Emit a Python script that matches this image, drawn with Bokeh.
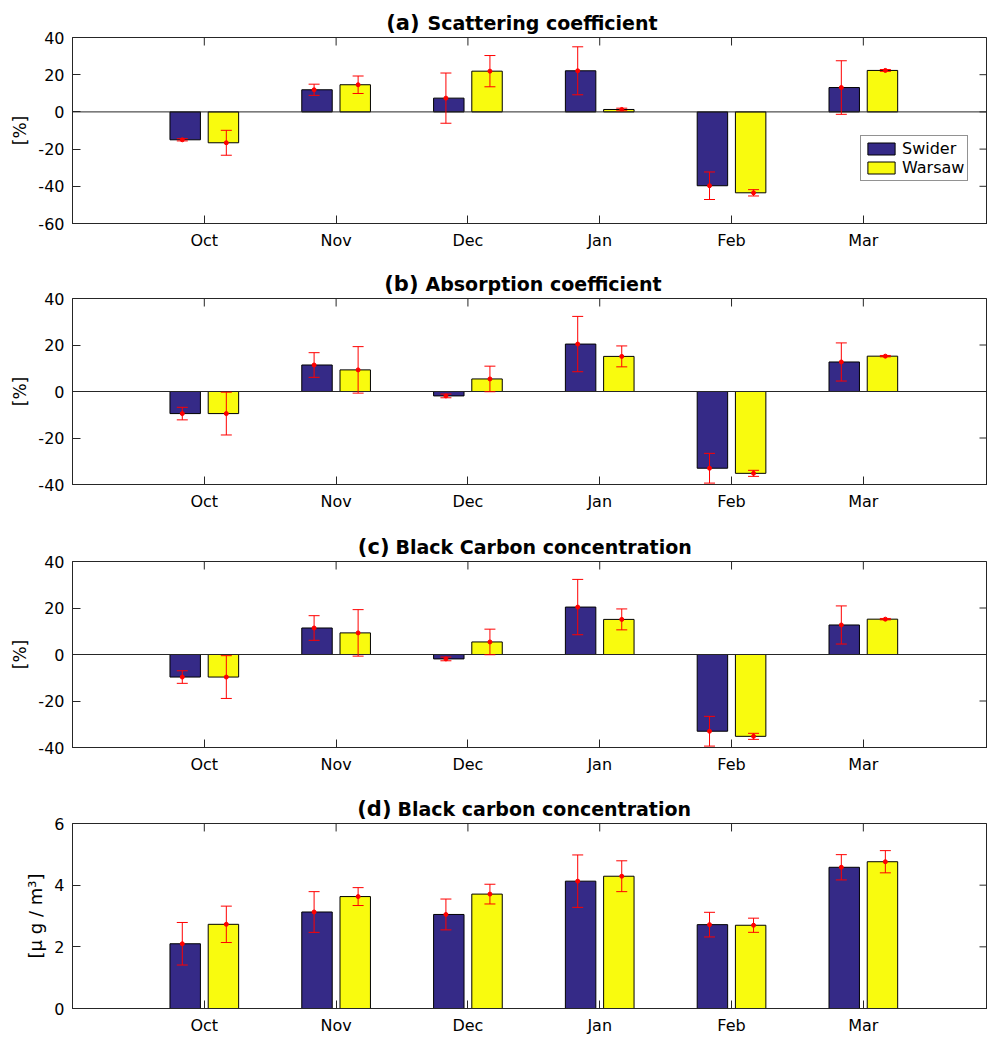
import numpy as np
from bokeh.plotting import figure
from bokeh.models import (ColumnDataSource, Range1d, FixedTicker, LinearAxis, Whisker,
                          TeeHead, Span, Legend, LegendItem)
from bokeh.core.properties import value
from bokeh.layouts import column
from bokeh.embed import file_html
from bokeh.resources import INLINE

# ---------------- data ----------------
months = ["Oct", "Nov", "Dec", "Jan", "Feb", "Mar"]
series_names = ["Swider", "Warsaw"]

scat_swider = [-15.0, 11.9, 7.4, 22.1, -39.7, 13.1]
scat_swider_err = [0.6, 3.0, 13.5, 12.9, 7.4, 14.4]
scat_warsaw = [-16.6, 14.6, 21.9, 1.3, -43.5, 22.3]
scat_warsaw_err = [6.7, 4.7, 8.4, 0.7, 1.7, 0.5]

abs_swider = [-9.5, 11.4, -1.9, 20.4, -33.0, 12.7]
abs_swider_err = [2.7, 5.3, 0.8, 11.9, 6.4, 8.2]
abs_warsaw = [-9.5, 9.3, 5.4, 15.1, -35.2, 15.2]
abs_warsaw_err = [9.2, 10.0, 5.5, 4.5, 1.3, 0.3]

bcp_swider = [-9.7, 11.4, -1.9, 20.4, -33.0, 12.7]
bcp_swider_err = [2.7, 5.3, 0.8, 11.9, 6.4, 8.2]
bcp_warsaw = [-9.7, 9.3, 5.4, 15.1, -35.2, 15.2]
bcp_warsaw_err = [9.2, 10.0, 5.5, 4.5, 1.3, 0.3]

bc_swider = [2.10, 3.13, 3.05, 4.13, 2.72, 4.58]
bc_swider_err = [0.69, 0.66, 0.50, 0.85, 0.40, 0.41]
bc_warsaw = [2.73, 3.63, 3.71, 4.29, 2.70, 4.76]
bc_warsaw_err = [0.59, 0.29, 0.32, 0.50, 0.23, 0.36]

pct_ticks_a = [-60, -40, -20, 0, 20, 40]
pct_ticks_b = [-40, -20, 0, 20, 40]
bc_ticks = [0, 2, 4, 6]

titles = [("(a)", "Scattering coefficient"),
          ("(b)", "Absorption coefficient"),
          ("(c)", "Black Carbon concentration"),
          ("(d)", "Black carbon concentration")]
ylabels = ["[%]", "[%]", "[%]", "[\u03bc g / m\u00b3]"]

# ---------------- style ----------------
C_SW = "#352A87"
C_WA = "#F9FB0E"
AX = "#262626"
FONT = "DejaVu Sans"
W = 987
LEFT = 72
FRAME_H = 186
FRAME_W = W - LEFT
XEND = 6.942
BAR_OFF = 0.145
ERR_OFF = 0.167
BAR_W = 0.231
TITLE_H = 37
TITLE_Y = 14.5
OVERLAP = 10
TICK_LEN = 8

month_pos = np.arange(1, len(months) + 1)


def title_fig(prefix, rest, split):
    t = figure(width=W, height=TITLE_H, x_range=Range1d(LEFT, W),
               y_range=Range1d(0, TITLE_H), output_backend="svg", toolbar_location=None,
               min_border_left=LEFT, min_border_right=0, min_border_top=0,
               min_border_bottom=0, x_axis_type=None, y_axis_type=None)
    t.title.visible = False
    t.outline_line_color = None
    t.text(x=[split[0]], y=[TITLE_Y], text=[prefix], text_font=value(FONT),
           text_font_size="21px", text_font_style="bold", text_align="right",
           text_baseline="alphabetic", text_color="black")
    t.text(x=[split[1]], y=[TITLE_Y], text=[rest], text_font=value(FONT),
           text_font_size="19px", text_font_style="bold", text_align="left",
           text_baseline="alphabetic", text_color="black")
    return t


def style_axis(ax):
    ax.major_tick_in = TICK_LEN
    ax.major_tick_out = 0
    ax.minor_tick_in = 0
    ax.minor_tick_out = 0
    ax.axis_line_color = AX
    ax.axis_line_width = 1
    ax.major_tick_line_color = AX
    ax.major_label_text_font = FONT
    ax.major_label_text_font_size = "16px"
    ax.major_label_text_color = "black"


def panel(ylabel, ysize, yr, yticks, sw, swe, wa, wae, bottom, legend=False):
    p = figure(width=W, height=OVERLAP + FRAME_H + bottom, x_range=Range1d(0, XEND),
               y_range=Range1d(*yr), output_backend="svg", toolbar_location=None,
               min_border_left=LEFT, min_border_right=0, min_border_top=OVERLAP,
               min_border_bottom=bottom, x_axis_type=None, y_axis_type=None,
               margin=(-OVERLAP, 0, 0, 0))
    p.title.visible = False
    p.border_fill_alpha = 0
    p.outline_line_color = AX
    p.outline_line_width = 1

    sw = np.array(sw); swe = np.array(swe)
    wa = np.array(wa); wae = np.array(wae)
    src_sw = ColumnDataSource(dict(x=month_pos - BAR_OFF, xe=month_pos - ERR_OFF,
                                   v=sw, up=sw + swe, lo=sw - swe))
    src_wa = ColumnDataSource(dict(x=month_pos + BAR_OFF, xe=month_pos + ERR_OFF,
                                   v=wa, up=wa + wae, lo=wa - wae))

    p.add_layout(Span(location=0, dimension="width", line_color=AX, line_width=1))

    # inward ticks on top and right edges of the box
    ppu_x = FRAME_W / XEND
    ppu_y = FRAME_H / (yr[1] - yr[0])
    p.segment(x0=month_pos, x1=month_pos, y0=[yr[1]] * len(month_pos),
              y1=[yr[1] - TICK_LEN / ppu_y] * len(month_pos), line_color=AX, line_width=1)
    p.segment(x0=[XEND] * len(yticks), x1=[XEND - TICK_LEN / ppu_x] * len(yticks),
              y0=yticks, y1=yticks, line_color=AX, line_width=1)

    r1 = p.vbar(x="x", top="v", bottom=0, width=BAR_W, source=src_sw,
                fill_color=C_SW, line_color="black", line_width=1)
    r2 = p.vbar(x="x", top="v", bottom=0, width=BAR_W, source=src_wa,
                fill_color=C_WA, line_color="black", line_width=1)

    for src in (src_sw, src_wa):
        p.add_layout(Whisker(source=src, base="xe", upper="up", lower="lo",
                             dimension="height", line_color="red", line_width=1,
                             level="annotation",
                             upper_head=TeeHead(size=11, line_color="red", line_width=1),
                             lower_head=TeeHead(size=11, line_color="red", line_width=1)))
        p.scatter(x="xe", y="v", source=src, size=4, color="red", marker="circle")

    xb = LinearAxis(ticker=FixedTicker(ticks=list(month_pos)),
                    major_label_overrides={int(k): m for k, m in zip(month_pos, months)})
    style_axis(xb)
    xb.major_label_standoff = 7
    p.add_layout(xb, "below")

    yl = LinearAxis(ticker=FixedTicker(ticks=yticks), axis_label=ylabel,
                    major_label_overrides={int(k): str(k) for k in yticks})
    style_axis(yl)
    yl.major_label_standoff = 8
    yl.axis_label_text_font = FONT
    yl.axis_label_text_font_size = ysize
    yl.axis_label_text_font_style = "normal"
    yl.axis_label_text_color = "black"
    yl.axis_label_standoff = 5
    p.add_layout(yl, "left")

    if legend:
        leg = Legend(items=[LegendItem(label=series_names[0], renderers=[r1]),
                            LegendItem(label=series_names[1], renderers=[r2])],
                     location=(788, 223 - 181), glyph_width=34, glyph_height=15,
                     label_height=15, label_standoff=4, spacing=0, padding=3,
                     margin=0, label_text_font=FONT, label_text_font_size="16px",
                     label_text_color="black",
                     border_line_color=AX, border_line_width=1,
                     background_fill_color="white", background_fill_alpha=1)
        p.add_layout(leg)
    return p


ta = title_fig(*titles[0], (419, 427))
pa = panel(ylabels[0], "17px", (-60, 40), pct_ticks_a,
           scat_swider, scat_swider_err, scat_warsaw, scat_warsaw_err, 38, legend=True)
tb = title_fig(*titles[1], (418, 425))
pb = panel(ylabels[1], "17px", (-40, 40), pct_ticks_b,
           abs_swider, abs_swider_err, abs_warsaw, abs_warsaw_err, 40)
tc = title_fig(*titles[2], (389, 395))
pc = panel(ylabels[2], "17px", (-40, 40), pct_ticks_b,
           bcp_swider, bcp_swider_err, bcp_warsaw, bcp_warsaw_err, 39)
td = title_fig(*titles[3], (391, 397))
pd = panel(ylabels[3], "18px", (0, 6), bc_ticks,
           bc_swider, bc_swider_err, bc_warsaw, bc_warsaw_err, 28)

layout = column(ta, pa, tb, pb, tc, pc, td, pd, spacing=0)
open("out.html", "w").write(file_html(layout, INLINE))
